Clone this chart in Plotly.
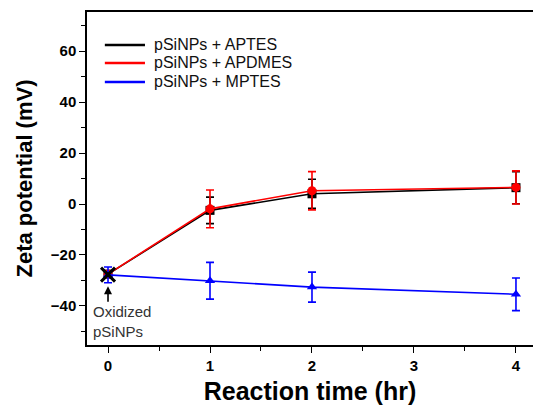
import plotly.graph_objects as go

time = [0, 1, 2, 4]
aptes = [-27.5, -2.5, 4.0, 6.4]
aptes_err = [0, 5.2, 5.7, 6.3]
apdmes = [-27.5, -1.9, 5.2, 6.5]
apdmes_err = [0, 7.4, 7.5, 6.5]
mptes = [-27.8, -30.1, -32.6, -35.4]
mptes_err = [3.1, 7.2, 5.9, 6.4]
oxidized_x = [0]
oxidized_y = [-27.7]
names = ["pSiNPs + APTES", "pSiNPs + APDMES", "pSiNPs + MPTES"]
colors = ["black", "#ff0000", "#0000ff"]

FONT = "Liberation Sans, Arial, sans-serif"

fig = go.Figure()

def add(name, y, err, color, symbol):
    fig.add_trace(go.Scatter(
        x=time, y=y, name=name, mode="lines+markers", showlegend=False,
        line=dict(color=color, width=1.6),
        marker=dict(color=color, symbol=symbol, size=9),
        error_y=dict(type="data", array=err, visible=True, color=color, thickness=1.6, width=4),
    ))

add(names[0], aptes, aptes_err, colors[0], "square")
add(names[1], apdmes, apdmes_err, colors[1], "circle")
add(names[2], mptes, mptes_err, colors[2], "triangle-up")

fig.add_trace(go.Scatter(
    x=oxidized_x, y=oxidized_y, mode="markers", showlegend=False,
    marker=dict(symbol="x-thin", size=14, line=dict(color="black", width=3), color="black"),
))

# manual legend (paper coordinates)
leg_rows = [0.901, 0.847, 0.790]
for n, c, yy in zip(names, colors, leg_rows):
    fig.add_shape(type="line", xref="paper", yref="paper", x0=0.040, x1=0.130, y0=yy, y1=yy,
                  line=dict(color=c, width=2.4))
    fig.add_annotation(xref="paper", yref="paper", x=0.146, y=yy, text=n, showarrow=False,
                       xanchor="left", yanchor="middle",
                       font=dict(family=FONT, size=16, color="#111111"))

fig.add_annotation(x=0, y=-32.3, ax=0, ay=17, axref="pixel", ayref="pixel",
                   text="", showarrow=True, arrowhead=2, arrowsize=1, arrowwidth=1.6,
                   arrowcolor="black", xref="x", yref="y")
fig.add_annotation(x=-0.17, y=-45.9, text="Oxidized<br>pSiNPs", showarrow=False,
                   xanchor="left", yanchor="middle", align="left",
                   font=dict(family=FONT, size=15, color="#333333"))

fig.update_layout(
    width=533, height=406,
    margin=dict(l=87, r=0, t=12, b=61),
    paper_bgcolor="white", plot_bgcolor="white",
    font=dict(family=FONT, color="black"),
    showlegend=False,
)

fig.update_xaxes(
    range=[-0.206, 4.167], showgrid=False, zeroline=False,
    showline=True, linecolor="black", linewidth=1.5, mirror=True,
    ticks="outside", ticklen=6, tickwidth=1.3, tickcolor="black",
    tickvals=[0, 1, 2, 3, 4],
    tickfont=dict(family=FONT, size=15, weight="bold"),
    minor=dict(tickvals=[0.5, 1.5, 2.5, 3.5], ticks="outside", ticklen=4, tickwidth=1.3, tickcolor="black"),
    title=dict(text="Reaction time (hr)", font=dict(family=FONT, size=25, weight="bold"), standoff=10),
)
fig.update_yaxes(
    range=[-55.3, 75.3], showgrid=False, zeroline=False,
    showline=True, linecolor="black", linewidth=1.5,
    ticks="outside", ticklen=6, tickwidth=1.3, tickcolor="black",
    tickvals=[-40, -20, 0, 20, 40, 60],
    tickfont=dict(family=FONT, size=15, weight="bold"),
    minor=dict(tickvals=[-50, -30, -10, 10, 30, 50, 70], ticks="outside", ticklen=4, tickwidth=1.3, tickcolor="black"),
    title=dict(text="Zeta potential (mV)", font=dict(family=FONT, size=22, weight="bold"), standoff=12),
)

fig.write_html("out.html")
